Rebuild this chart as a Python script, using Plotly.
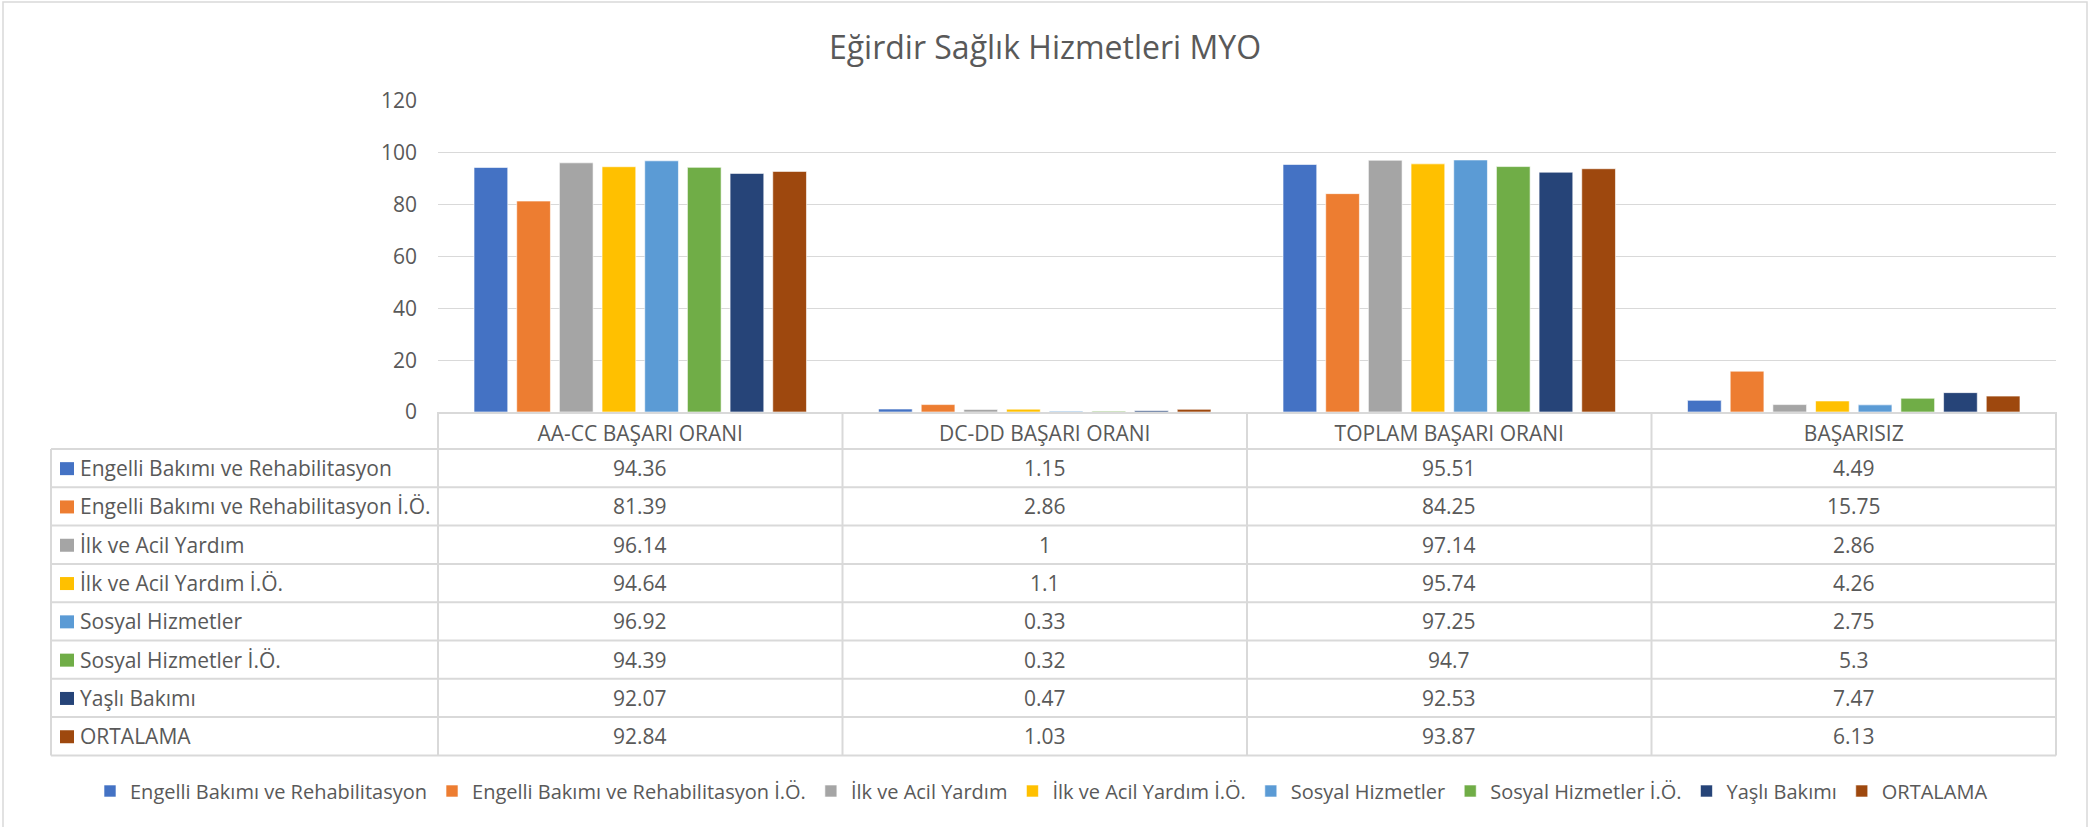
import plotly.graph_objects as go

categories = ["AA-CC BAŞARI ORANI", "DC-DD BAŞARI ORANI", "TOPLAM BAŞARI ORANI", "BAŞARISIZ"]
series_names = [
    "Engelli Bakımı ve Rehabilitasyon",
    "Engelli Bakımı ve Rehabilitasyon İ.Ö.",
    "İlk ve Acil Yardım",
    "İlk ve Acil Yardım İ.Ö.",
    "Sosyal Hizmetler",
    "Sosyal Hizmetler İ.Ö.",
    "Yaşlı Bakımı",
    "ORTALAMA",
]
engelli = [94.36, 1.15, 95.51, 4.49]
engelli_io = [81.39, 2.86, 84.25, 15.75]
ilk_acil = [96.14, 1, 97.14, 2.86]
ilk_acil_io = [94.64, 1.1, 95.74, 4.26]
sosyal = [96.92, 0.33, 97.25, 2.75]
sosyal_io = [94.39, 0.32, 94.7, 5.3]
yasli = [92.07, 0.47, 92.53, 7.47]
ortalama = [92.84, 1.03, 93.87, 6.13]
series_values = [engelli, engelli_io, ilk_acil, ilk_acil_io, sosyal, sosyal_io, yasli, ortalama]
colors = ["#4472C4", "#ED7D31", "#A5A5A5", "#FFC000", "#5B9BD5", "#70AD47", "#264478", "#9E480E"]
y_ticks = [0, 20, 40, 60, 80, 100, 120]

W, H = 2096, 827
L, R, T, B = 438, 2056, 101, 412
FONT = "Open Sans"
FS = 21
TXT = "#595959"
GRID = "#D9D9D9"

fig = go.Figure()
for name, vals, col in zip(series_names, series_values, colors):
    fig.add_trace(go.Bar(name=name, x=categories, y=vals,
                         marker=dict(color=col, line=dict(color="white", width=0.6))))

def px_x(px):
    return (px - L) / (R - L)

def px_y(py):
    return (B - py) / (B - T)

shapes = []
annotations = []
table_left = 51
header_bottom = 449
row_h = 38.3
n_rows = len(series_names)
table_bottom = header_bottom + row_h * n_rows
cat_w = (R - L) / len(categories)

for k in range(n_rows + 1):
    yy = px_y(header_bottom + row_h * k)
    shapes.append(dict(type="line", xref="paper", yref="paper", x0=px_x(table_left), x1=1, y0=yy, y1=yy,
                       line=dict(color=GRID, width=2)))
shapes.append(dict(type="line", xref="paper", yref="paper", x0=px_x(table_left), x1=px_x(table_left),
                   y0=px_y(header_bottom), y1=px_y(table_bottom), line=dict(color=GRID, width=2)))
for j in range(len(categories) + 1):
    xx = px_x(L + cat_w * j)
    shapes.append(dict(type="line", xref="paper", yref="paper", x0=xx, x1=xx, y0=0, y1=px_y(table_bottom),
                       line=dict(color=GRID, width=2)))

for i, (name, vals, col) in enumerate(zip(series_names, series_values, colors)):
    cy = header_bottom + row_h * (i + 0.5)
    shapes.append(dict(type="rect", xref="paper", yref="paper", x0=px_x(60), x1=px_x(74),
                       y0=px_y(cy - 6), y1=px_y(cy + 7), fillcolor=col, line=dict(width=0)))
    annotations.append(dict(xref="paper", yref="paper", x=px_x(78), y=px_y(cy), text=name, showarrow=False,
                            xanchor="left", yanchor="middle", font=dict(family=FONT, size=FS, color=TXT)))
    for c, v in zip(categories, vals):
        annotations.append(dict(xref="x", yref="paper", x=c, y=px_y(cy), text=f"{v:g}", showarrow=False,
                                xanchor="center", yanchor="middle", font=dict(family=FONT, size=FS, color=TXT)))

shapes.append(dict(type="rect", xref="paper", yref="paper", x0=px_x(3), x1=px_x(2087), y0=px_y(2), y1=px_y(830),
                   line=dict(color="#D9D9D9", width=1.5), fillcolor="rgba(0,0,0,0)", layer="below"))

fig.update_layout(
    width=W, height=H,
    margin=dict(l=L, r=W - R, t=T, b=H - B, autoexpand=False),
    paper_bgcolor="white", plot_bgcolor="white",
    barmode="group", bargap=0.156, bargroupgap=0.21,
    title=dict(text="Eğirdir Sağlık Hizmetleri MYO", x=1045 / W, xref="container", xanchor="center",
               y=1 - 48 / H, yanchor="middle", yref="container",
               font=dict(family=FONT, size=32, color=TXT)),
    font=dict(family=FONT, size=FS, color=TXT),
    xaxis=dict(showline=True, linecolor=GRID, linewidth=2, showgrid=False, ticks="",
               tickfont=dict(family=FONT, size=FS, color=TXT), ticklabelstandoff=2),
    yaxis=dict(range=[0, 120], tickvals=y_ticks, showgrid=True, gridcolor=GRID, gridwidth=1.3,
               zeroline=False, showline=False, ticks="", ticklabelstandoff=20,
               tickfont=dict(family=FONT, size=FS, color=TXT)),
    legend=dict(orientation="h", xref="paper", yref="paper", x=px_x(90), xanchor="left",
                y=px_y(791), yanchor="middle", font=dict(family=FONT, size=20, color=TXT),
                itemwidth=30, tracegroupgap=0),
    shapes=shapes, annotations=annotations,
)

fig.write_html("out.html", config={"displayModeBar": False},
               post_script="document.body.style.margin='0';")
